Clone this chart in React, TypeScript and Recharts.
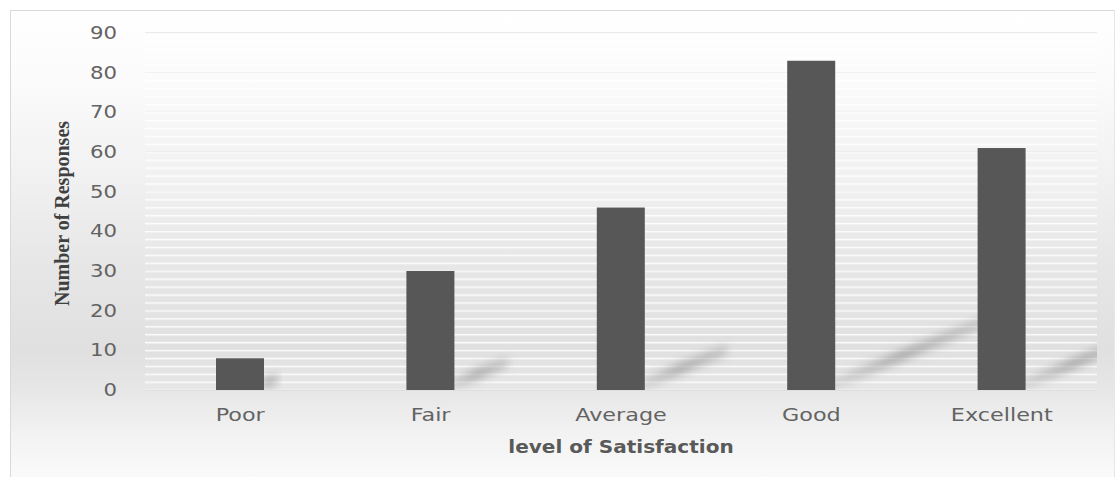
import React from 'react';
import { BarChart, Bar, XAxis, YAxis, CartesianGrid, ReferenceArea } from 'recharts';

const categories = ['Poor', 'Fair', 'Average', 'Good', 'Excellent'];
const responses = [8, 30, 46, 83, 61];
const yTicks = [0, 10, 20, 30, 40, 50, 60, 70, 80, 90];

const data = categories.map((c, i) => ({ category: c, responses: responses[i] }));

const W = 1115;
const H = 477;
const MARGIN = { top: 33, right: 18, bottom: 27, left: 0 };
const Y_AXIS_W = 145;
const X_AXIS_H = 60;
const PLOT_L = MARGIN.left + Y_AXIS_W;
const PLOT_R = W - MARGIN.right;
const PLOT_T = MARGIN.top;
const PLOT_B = H - MARGIN.bottom - X_AXIS_H;

const YTick = (props: any) => {
  const { x, y, payload } = props;
  return (
    <text
      transform={`translate(${x},${y + 6}) scale(1.25,1)`}
      textAnchor="end"
      fill="#636363"
      fontSize={17}
      fontFamily="DejaVu Sans"
    >
      {payload.value}
    </text>
  );
};

const XTick = (props: any) => {
  const { x, y, payload } = props;
  return (
    <text
      transform={`translate(${x},${y + 31}) scale(1.24,1)`}
      textAnchor="middle"
      fill="#636363"
      fontSize={18}
      fontFamily="DejaVu Sans"
    >
      {payload.value}
    </text>
  );
};

const XTitle = (props: any) => {
  const vb = props.viewBox || {};
  const cx = vb.x + vb.width / 2;
  const y = vb.y + 63;
  return (
    <text
      transform={`translate(${cx},${y}) scale(1.18,1)`}
      textAnchor="middle"
      fill="#595959"
      fontSize={17}
      fontWeight="bold"
      fontFamily="DejaVu Sans"
    >
      level of Satisfaction
    </text>
  );
};

const YTitle = (props: any) => {
  const vb = props.viewBox || {};
  const cx = 62;
  const cy = vb.y + vb.height / 2 + 2;
  return (
    <text
      transform={`translate(${cx},${cy}) rotate(-90) scale(1,1.08)`}
      textAnchor="middle"
      dominantBaseline="central"
      fill="#404040"
      fontSize={20}
      fontWeight="bold"
      fontFamily="Liberation Serif"
    >
      Number of Responses
    </text>
  );
};

const ShadowBar = (props: any) => {
  const { x, y, width, height, fill } = props;
  const base = y + height;
  const dx = 0.45 * height;
  const dy = 0.19 * height;
  const t = 11;
  const sx = x + width - 4;
  const ex = x + width + dx;
  const pts = `${sx},${base} ${sx},${base - t} ${ex},${base - t - dy} ${ex},${base - dy}`;
  return (
    <g>
      <g clipPath="url(#plotClip)">
        <polygon points={pts} fill="url(#shadowGrad)" filter="url(#shadowBlur)" />
      </g>
      <rect x={x} y={y} width={width} height={height} fill={fill} />
    </g>
  );
};

export default function App() {
  return (
    <div style={{ position: 'absolute', left: 0, top: 0, width: W, height: H, overflow: 'hidden', background: '#ffffff' }}>
      <div
        style={{
          position: 'absolute',
          left: 10,
          top: 10,
          width: 1103,
          height: 470,
          borderTop: '1px solid #d9d9d9',
          borderLeft: '1px solid #d9d9d9',
          borderRight: '1px solid #e6e6e6',
          background:
            'linear-gradient(to bottom, #ffffff 0%, #fbfbfb 15%, #f1f1f1 35%, #e6e6e6 55%, #e0e0e0 72%, #e6e6e6 80%, #f2f2f2 90%, #fbfbfb 100%)',
        }}
      />
      <div style={{ position: 'absolute', left: 0, top: 0 }}>
        <BarChart width={W} height={H} data={data} margin={MARGIN}>
          <defs>
            <pattern id="stripes" patternUnits="userSpaceOnUse" width={20} height={7.93}>
              <rect x={0} y={0.9} width={20} height={1.5} fill="#ffffff" fillOpacity={0.9} />
            </pattern>
            <linearGradient id="shadowGrad" x1="0" y1="0" x2="1" y2="0">
              <stop offset="0%" stopColor="#8c8c8c" stopOpacity={0.2} />
              <stop offset="45%" stopColor="#858585" stopOpacity={0.6} />
              <stop offset="100%" stopColor="#8c8c8c" stopOpacity={0.35} />
            </linearGradient>
            <filter id="shadowBlur" x="-20%" y="-60%" width="140%" height="220%">
              <feGaussianBlur stdDeviation={4} />
            </filter>
            <clipPath id="plotClip">
              <rect x={PLOT_L} y={PLOT_T} width={PLOT_R - PLOT_L} height={PLOT_B - PLOT_T} />
            </clipPath>
          </defs>
          <ReferenceArea y1={0} y2={90} fill="url(#stripes)" fillOpacity={1} strokeOpacity={0} ifOverflow="hidden" />
          <CartesianGrid vertical={false} stroke="#d6d6d6" strokeWidth={1} />
          <XAxis
            dataKey="category"
            height={X_AXIS_H}
            axisLine={false}
            tickLine={false}
            tickSize={0}
            tickMargin={0}
            tick={<XTick />}
            interval={0}
            label={{ content: <XTitle /> }}
          />
          <YAxis
            width={Y_AXIS_W}
            domain={[0, 90]}
            ticks={yTicks}
            axisLine={false}
            tickLine={false}
            tickSize={0}
            tickMargin={28}
            tick={<YTick />}
            interval={0}
            label={{ content: <YTitle /> }}
          />
          <Bar dataKey="responses" fill="#575757" barSize={48} isAnimationActive={false} shape={<ShadowBar />} />
        </BarChart>
      </div>
    </div>
  );
}
